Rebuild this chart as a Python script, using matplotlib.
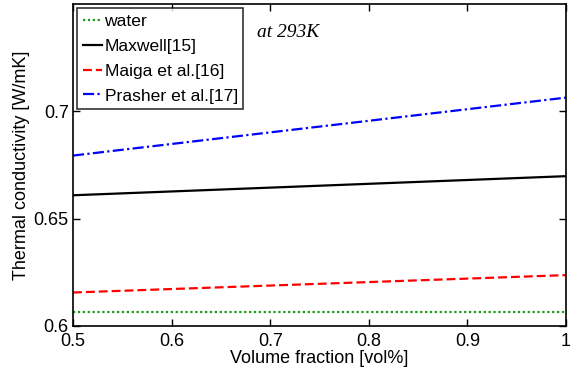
import matplotlib
matplotlib.use("Agg")
import matplotlib.pyplot as plt
import numpy as np

plt.rcParams['font.family'] = ['Liberation Sans', 'DejaVu Sans']

phi = [0.5, 1.0]
water = [0.6066, 0.6066]
maxwell = [0.6609, 0.6698]
maiga = [0.6156, 0.6237]
prasher = [0.6794, 0.7064]

fig = plt.figure(figsize=(5.73, 3.76), dpi=100)
ax = fig.add_axes([0.1274, 0.1330, 0.8604, 0.8563])

ax.plot(phi, water, color='#1a9a1a', linestyle=(0, (1, 1.2)), lw=1.6, label='water')
ax.plot(phi, maxwell, color='black', linestyle='-', lw=1.6, label='Maxwell[15]')
ax.plot(phi, maiga, color='red', linestyle=(0, (4, 1.8)), lw=1.6, label='Maiga et al.[16]')
ax.plot(phi, prasher, color='blue', linestyle=(0, (5, 1.5, 1, 1.5)), lw=1.6, label='Prasher et al.[17]')

ax.set_xlim(0.5, 1.0)
ax.set_ylim(0.6, 0.75)
ax.set_xticks([0.5, 0.6, 0.7, 0.8, 0.9, 1.0])
ax.set_xticklabels(['0.5', '0.6', '0.7', '0.8', '0.9', '1'])
ax.set_yticks([0.6, 0.65, 0.7])
ax.set_yticklabels(['0.6', '0.65', '0.7'])
ax.tick_params(direction='in', top=True, right=True, labelsize=13, length=5, width=1)
ax.tick_params(axis='x', pad=5)
ax.tick_params(axis='y', pad=3)
for s in ax.spines.values():
    s.set_linewidth(1.2)

ax.set_xlabel('Volume fraction [vol%]', fontsize=13, labelpad=0)
ax.set_ylabel('Thermal conductivity [W/mK]', fontsize=13, labelpad=3)

leg = ax.legend(loc='upper left', fontsize=12.6, frameon=True, fancybox=False,
                edgecolor='black', handlelength=1.1, handletextpad=0.15,
                borderpad=0.3, labelspacing=0.55, borderaxespad=0.25)
leg.get_frame().set_linewidth(1.2)

ax.text(0.373, 0.913, 'at 293K', transform=ax.transAxes, fontsize=14,
        fontstyle='italic', family='Liberation Serif', ha='left', va='center')

fig.savefig('out.png', dpi=100)
